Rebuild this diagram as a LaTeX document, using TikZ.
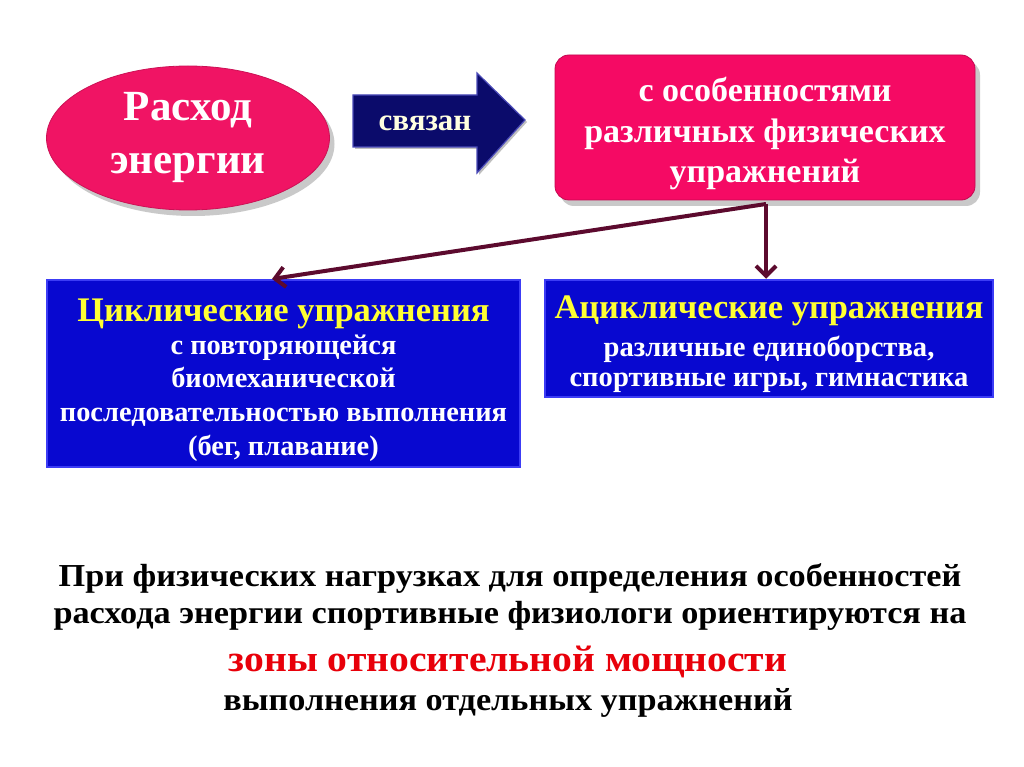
\documentclass[tikz,border=0pt]{standalone}
\usepackage{fontspec}
\setmainfont{Liberation Serif}
\usetikzlibrary{shapes.geometric,shadows,arrows.meta}
\definecolor{pinkA}{HTML}{F01464}
\definecolor{pinkB}{HTML}{F50A64}
\definecolor{navy}{HTML}{0B0B6B}
\definecolor{navyedge}{HTML}{4A4AB8}
\definecolor{bluebox}{HTML}{0808D0}
\definecolor{blueedge}{HTML}{3C3CF5}
\definecolor{maroon}{HTML}{5C0A2E}
\definecolor{ttl}{HTML}{FFFF33}
\definecolor{redtxt}{HTML}{E8000A}
\definecolor{cream}{HTML}{FFFFE0}
\tikzset{
  softshadow/.style={drop shadow={shadow xshift=5pt,shadow yshift=-6pt,opacity=0.35,fill=black!60}},
  pinkbox/.style={fill=pinkB,draw=pinkB!80!black,line width=0.8pt,rounded corners=14pt,softshadow,inner sep=0pt},
  pinktxt/.style={text=white,font=\bfseries\fontsize{34}{40.5}\selectfont,align=center,inner sep=0pt},
  bluerect/.style={fill=bluebox,draw=blueedge,line width=2.5pt,align=center,inner sep=0pt,text=white},
  bodytxt/.style={anchor=center,text=white,align=center,font=\bfseries\fontsize{28.4}{33.7}\selectfont},
  conn/.style={draw=maroon,line width=4pt,-{Straight Barb[length=10pt,width=20pt,line width=4pt]}},
  bottomtxt/.style={font=\bfseries\fontsize{32}{38}\selectfont},
}
\newcommand{\wide}[1]{\scalebox{1.07}[1]{#1}}
\begin{document}
\begin{tikzpicture}[x=1pt,y=-1pt]
\useasboundingbox[fill=white] (0,0) rectangle (1024,767);
% ellipse
\node[ellipse,fill=pinkA,draw=pinkA!85!black,line width=0.8pt,minimum width=283pt,minimum height=144pt,softshadow,
  text=white,font=\bfseries\fontsize{43}{53}\selectfont,align=center,inner sep=0pt] (rash) at (188,138) {Расход\\энергии};
% arrow
\path[fill=navy,draw=navyedge,line width=1.2pt,drop shadow={shadow xshift=2pt,shadow yshift=-2pt,opacity=0.25,fill=black}]
  (353,95) -- (477,95) -- (477,73) -- (525,120) -- (477,173) -- (477,147) -- (353,147) -- cycle;
\node[text=cream,font=\bfseries\fontsize{31}{34}\selectfont,inner sep=0pt] (svyaz) at (425,123) {связан};
% top right box
\node[pinkbox,minimum width=420pt,minimum height=145pt] (osob) at (765,127.5) {};
\node[pinktxt] (osobt) at (765,134) {с особенностями\\различных физических\\упражнений};
% blue boxes
\node[bluerect,minimum width=473pt,minimum height=187pt] (cyc) at (283.5,373.5) {};
\node[bodytxt] (cyct) at (283.5,380)
  {{\color{ttl}\fontsize{34.5}{38}\selectfont Циклические упражнения}\\[-1pt]с повторяющейся\\биомеханической\\последовательностью выполнения\\(бег, плавание)};
\node[bluerect,minimum width=448pt,minimum height=117pt] (acyc) at (769,338.5) {};
\node[bodytxt,font=\bfseries\fontsize{28.6}{30}\selectfont] (acyct) at (769,344)
  {{\color{ttl}\fontsize{34.4}{38}\selectfont Ациклические упражнения}\\[8pt]различные единоборства,\\спортивные игры, гимнастика};
% connectors
\coordinate (src) at (766,204);
\coordinate (tipL) at (272,279);
\draw[conn] (src) -- (src |- acyc.north);
\draw[conn] (src) -- (tipL);
% bottom text
\node[bottomtxt] (b1) at (510,578) {\wide{При физических нагрузках для определения особенностей}};
\node[bottomtxt] (b2) at (510,616) {\wide{расхода энергии спортивные физиологи ориентируются на}};
\node[bottomtxt,text=redtxt,font=\bfseries\fontsize{37}{42}\selectfont] (b3) at (508,662) {\wide{зоны относительной мощности}};
\node[bottomtxt] (b4) at (508,703) {\wide{выполнения отдельных упражнений}};
\end{tikzpicture}
\end{document}
